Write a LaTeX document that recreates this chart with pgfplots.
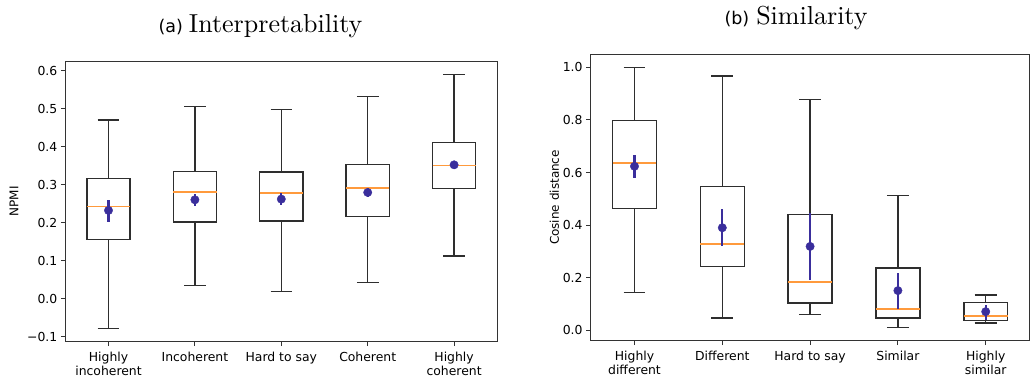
\documentclass[border=0pt]{standalone}
\usepackage{pgfplots}
\pgfplotsset{compat=1.18}
\usepgfplotslibrary{statistics}
\usepackage{fontspec}
\usepackage{graphicx}
\newfontfamily\dv{DejaVu Sans}
\definecolor{medorange}{HTML}{FF9A3C}
\definecolor{meanblue}{HTML}{3A2E9C}
\pgfplotsset{
  mybox/.style={
    scale only axis, anchor=south west,
    xmin=0.5, xmax=5.5, xtick={1,2,3,4,5},
    tick align=outside, tick pos=left, major tick length=4.5pt,
    axis line style={line width=1.1pt, black!80},
    every tick/.style={black!80, line width=1.1pt},
    ticklabel style={font=\dv\fontsize{12.4}{14.3}\selectfont},
    xticklabel style={align=center, yshift=-2.5pt},
    every axis y label/.style={rotate=90, anchor=base, font=\dv\fontsize{12}{14}\selectfont},
    boxplot/draw direction=y,
    boxplot/box extend=0.5, boxplot/whisker extend=0.25,
    boxplot/every median/.style={draw=none},
  },
  bx/.style={black!82, line width=1.5pt, solid, mark=none},
  md/.style={medorange, line width=1.8pt, mark=none},
  mn/.style={only marks, mark=*, mark size=4.2pt, color=meanblue,
    error bars/.cd, y dir=both, y explicit, error mark=none,
    error bar style={line width=2.1pt, meanblue}},
}
\begin{document}
\begin{tikzpicture}
\node[anchor=base west, inner sep=0pt] at (158.3pt,348pt)
  {{\dv\fontsize{17.5}{20}\selectfont (a)}\hspace{6pt}\scalebox{2.6}{\rmfamily\fontsize{10}{12}\selectfont Interpretability}};
\node[anchor=base west, inner sep=0pt] at (724.3pt,356pt)
  {{\dv\fontsize{17.5}{20}\selectfont (b)}\hspace{7pt}\scalebox{2.6}{\rmfamily\fontsize{10}{12}\selectfont Similarity}};

\begin{axis}[mybox, at={(65.3pt,39.5pt)}, width=432pt, height=280pt,
  ymin=-0.112, ymax=0.624,
  ytick={-0.1,0,0.1,0.2,0.3,0.4,0.5,0.6},
  yticklabels={−0.1,0.0,0.1,0.2,0.3,0.4,0.5,0.6},
  xticklabels={{Highly\\incoherent},Incoherent,{Hard to say},Coherent,{Highly\\coherent}},
  ylabel={NPMI},
  every axis y label/.append style={at={(axis description cs:-0.1088,0.5)}},
]
\addplot[bx, boxplot prepared={draw position=1, lower whisker=-0.078, lower quartile=0.156, median=0.243, upper quartile=0.3165, upper whisker=0.470}] coordinates {};
\addplot[bx, boxplot prepared={draw position=2, lower whisker=0.0348, lower quartile=0.202, median=0.2815, upper quartile=0.335, upper whisker=0.5055}] coordinates {};
\addplot[bx, boxplot prepared={draw position=3, lower whisker=0.019, lower quartile=0.2054, median=0.278, upper quartile=0.334, upper whisker=0.4976}] coordinates {};
\addplot[bx, boxplot prepared={draw position=4, lower whisker=0.0436, lower quartile=0.216, median=0.292, upper quartile=0.3533, upper whisker=0.5318}] coordinates {};
\addplot[bx, boxplot prepared={draw position=5, lower whisker=0.1127, lower quartile=0.290, median=0.3507, upper quartile=0.411, upper whisker=0.590}] coordinates {};
\addplot[md] coordinates {(0.75,0.243) (1.25,0.243)};
\addplot[md] coordinates {(1.75,0.2815) (2.25,0.2815)};
\addplot[md] coordinates {(2.75,0.278) (3.25,0.278)};
\addplot[md] coordinates {(3.75,0.292) (4.25,0.292)};
\addplot[md] coordinates {(4.75,0.3507) (5.25,0.3507)};
\addplot[mn] coordinates {
  (1,0.2325) += (0,0.028) -= (0,0.0305)
  (2,0.2605) += (0,0.015) -= (0,0.0175)
  (3,0.2623) += (0,0.0157) -= (0,0.0166)
  (4,0.2798) += (0,0.0112) -= (0,0.0123)
  (5,0.3524) += (0,0.0086) -= (0,0.0087)
};
\end{axis}

\begin{axis}[mybox, at={(590.6pt,40.3pt)}, width=439pt, height=286.4pt,
  ymin=-0.0395, ymax=1.0495,
  ytick={0,0.2,0.4,0.6,0.8,1.0},
  yticklabels={0.0,0.2,0.4,0.6,0.8,1.0},
  xticklabels={{Highly\\different},Different,{Hard to say},Similar,{Highly\\similar}},
  ylabel={Cosine distance},
  every axis y label/.append style={at={(axis description cs:-0.072,0.5)}},
]
\addplot[bx, boxplot prepared={draw position=1, lower whisker=0.1445, lower quartile=0.464, median=0.635, upper quartile=0.7985, upper whisker=1.0}] coordinates {};
\addplot[bx, boxplot prepared={draw position=2, lower whisker=0.047, lower quartile=0.243, median=0.328, upper quartile=0.546, upper whisker=0.967}] coordinates {};
\addplot[bx, boxplot prepared={draw position=3, lower whisker=0.061, lower quartile=0.104, median=0.184, upper quartile=0.441, upper whisker=0.877}] coordinates {};
\addplot[bx, boxplot prepared={draw position=4, lower whisker=0.010, lower quartile=0.047, median=0.080, upper quartile=0.236, upper whisker=0.512}] coordinates {};
\addplot[bx, boxplot prepared={draw position=5, lower whisker=0.028, lower quartile=0.0368, median=0.0558, upper quartile=0.1065, upper whisker=0.134}] coordinates {};
\addplot[md] coordinates {(0.75,0.635) (1.25,0.635)};
\addplot[md] coordinates {(1.75,0.328) (2.25,0.328)};
\addplot[md] coordinates {(2.75,0.184) (3.25,0.184)};
\addplot[md] coordinates {(3.75,0.080) (4.25,0.080)};
\addplot[md] coordinates {(4.75,0.0558) (5.25,0.0558)};
\addplot[mn] coordinates {
  (1,0.6236) += (0,0.0418) -= (0,0.0446)
  (2,0.390) += (0,0.071) -= (0,0.071)
  (3,0.319) += (0,0.127) -= (0,0.129)
  (4,0.151) += (0,0.067) -= (0,0.070)
  (5,0.071) += (0,0.0266) -= (0,0.033)
};
\end{axis}
\pgfresetboundingbox
\path[use as bounding box] (0,0) rectangle (1030pt,381pt);
\end{tikzpicture}
\end{document}
